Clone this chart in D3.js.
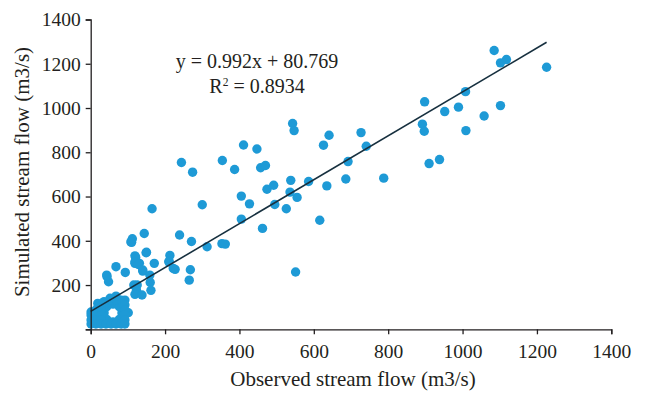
<!DOCTYPE html>
<html><head><meta charset="utf-8">
<script src="https://cdn.jsdelivr.net/npm/d3@7"></script>
<style>body{margin:0;background:#fff}svg{display:block}text{font-family:"Liberation Serif","Times New Roman",serif;fill:#231f20}</style>
</head><body><svg id="c" width="647" height="393"></svg>
<script>
// Observed (x) vs simulated (y) stream flow, m3/s
const observed = [1085,1102,1118,1226,1008,898,952,989,1102,1058,892,897,1009,910,938,788,
 543,547,641,727,626,741,411,447,244,354,274,387,457,470,692,538,586,686,635,474,492,536,555,405,427,495,526,300,616,405,462,
 239,271,313,353,362,213,211,227,268,265,551,165,144,110,112,108,149,171,121,119,131,140,159,160,162,68,93,44,48,116,123,119,101,
 43,119,150,119,128,140,210,222,19,125,138,
 36,84,60,60,43,77,43,77,
 1,1,1,1,14,14,14,14,28,28,28,28,28,41,41,55,55,68,68,82,82,92,92,92,92,92,92,
 36,52,68,20];
const simulated = [1260,1204,1219,1184,1074,1028,984,1004,1011,964,927,895,898,749,767,683,
 930,898,877,889,832,827,833,815,754,763,710,722,730,740,758,673,668,679,648,633,651,620,596,602,567,564,545,563,493,498,456,
 426,397,373,387,385,334,307,271,269,222,259,545,433,393,409,395,346,298,325,298,298,263,245,212,176,283,257,238,215,200,177,158,75,
 245,332,348,305,293,268,305,275,117,200,155,
 74,74,114,33,102,102,45,45,
 78,65,42,24,87,65,42,24,105,87,65,42,24,119,24,132,24,132,24,132,24,132,110,87,65,42,24,
 125,140,150,100];
const xTicks = [0,200,400,600,800,1000,1200,1400];
const yTicks = [0,200,400,600,800,1000,1200,1400];
const yTickLabels = ["","200","400","600","800","1000","1200","1400"];
const slope = 0.992, intercept = 80.769, fitMaxX = 1226;
const eqText = "y = 0.992x + 80.769";

const svg = d3.select("#c");
const x = d3.scaleLinear().domain([0,1400]).range([90.7,611.3]);
const y = d3.scaleLinear().domain([0,1400]).range([329.3,19.5]);

const pts = observed.map((v,i)=>[v,simulated[i]]);
svg.append("g").selectAll("circle").data(pts).join("circle")
  .attr("cx",d=>x(d[0])).attr("cy",d=>y(d[1])).attr("r",4.7).attr("fill","#1e9ad6");

svg.append("line").attr("x1",x(0)).attr("y1",y(intercept))
  .attr("x2",x(fitMaxX)).attr("y2",y(slope*fitMaxX+intercept))
  .attr("stroke","#17303f").attr("stroke-width",1.6);

const xa = svg.append("g").attr("transform",`translate(0,${y(0)})`)
  .call(d3.axisBottom(x).tickValues(xTicks).tickSize(5).tickPadding(10).tickFormat(d3.format("d")));
const ya = svg.append("g").attr("transform",`translate(${x(0)},0)`)
  .call(d3.axisLeft(y).tickValues(yTicks).tickSize(5).tickPadding(5).tickFormat((d,i)=>yTickLabels[i]));
[xa,ya].forEach(a=>{a.select(".domain").attr("stroke","#231f20").attr("stroke-width",1.3);
  a.selectAll(".tick line").attr("stroke","#231f20").attr("stroke-width",1.3);
  a.selectAll("text").attr("fill","#231f20").style("font-size","19.5px").attr("font-family",null);});

svg.append("text").attr("x",353).attr("y",386).attr("text-anchor","middle").style("font-size","21px")
  .text("Observed stream flow (m3/s)");
svg.append("text").attr("transform","translate(29,172) rotate(-90)").attr("text-anchor","middle").style("font-size","21px")
  .text("Simulated stream flow (m3/s)");

svg.append("text").attr("x",257).attr("y",68).attr("text-anchor","middle").style("font-size","20px").text(eqText);
const r2 = svg.append("text").attr("x",257).attr("y",93).attr("text-anchor","middle").style("font-size","20px");
r2.append("tspan").text("R");
r2.append("tspan").attr("dy",-7).style("font-size","11.5px").text("2");
r2.append("tspan").attr("dy",7).text(" = 0.8934");
</script></body></html>
